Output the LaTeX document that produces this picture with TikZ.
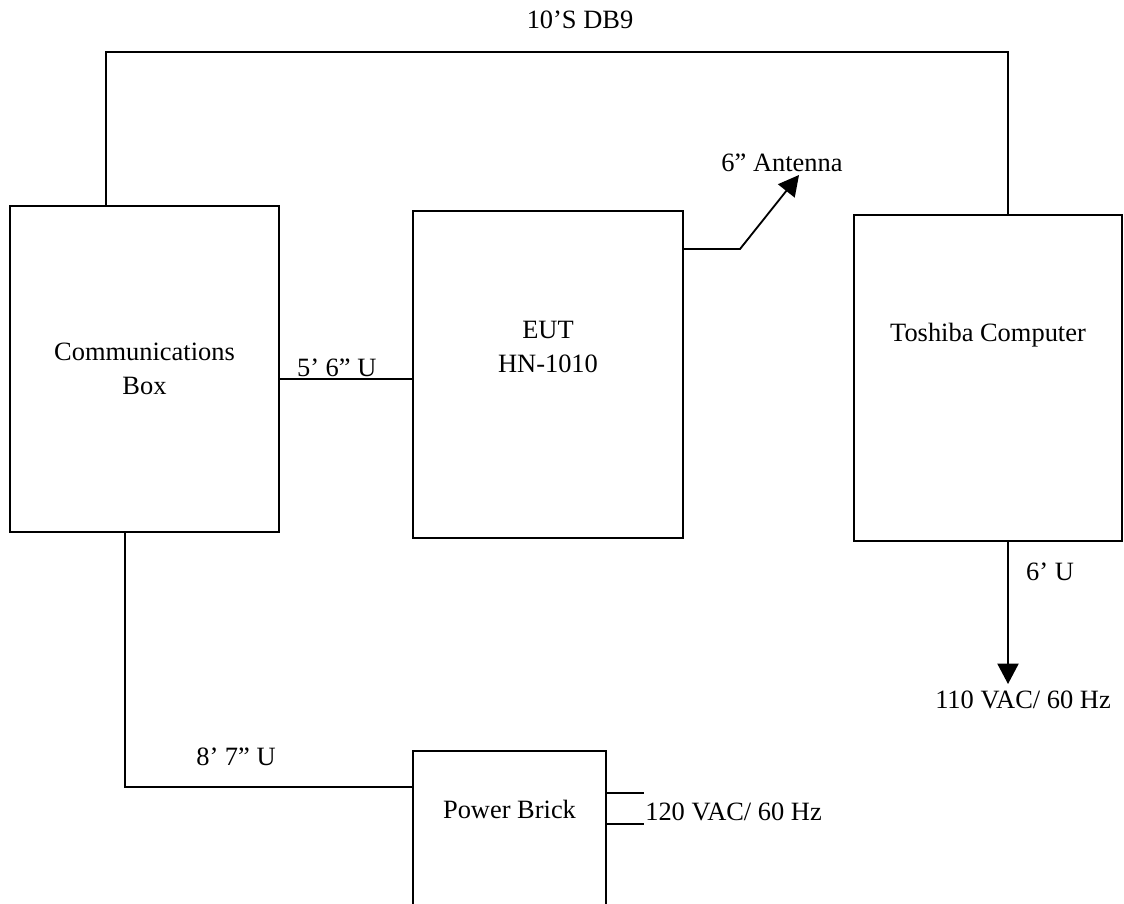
\documentclass[tikz,border=0pt]{standalone}
\usepackage{fontspec}
\setmainfont{Liberation Serif}
\usetikzlibrary{arrows.meta,positioning}
\definecolor{SetupInk}{HTML}{000000}
\newcommand{\setupfont}{\fontsize{18.8}{24}\selectfont}
\tikzset{
  setup/box/.style={
    draw=SetupInk, line width=1.3pt, fill=white,
    inner sep=0pt, font=\setupfont, align=center
  },
  setup/cable/.style={draw=SetupInk, line width=1.3pt},
  setup/arrow/.style={
    setup/cable, -{Triangle[length=14.5pt,width=15pt]}
  },
  setup/label/.style={font=\setupfont, text=SetupInk, inner sep=0pt, align=center}
}

\begin{document}
\begin{tikzpicture}[x=0.025cm,y=-0.025cm]
  \useasboundingbox (0,0) rectangle (1124,903);
  % equipment
  \node[setup/box,minimum width=6.725cm,minimum height=8.15cm] (comm) at (144.5,369)
    {Communications\\Box};
  \node[setup/box,minimum width=6.75cm,minimum height=8.175cm,
    label={[setup/label,yshift=.69cm]center:{EUT\\HN-1010}}] (eut) at (548,374.5) {};
  \node[setup/box,minimum width=6.7cm,minimum height=8.15cm,
    label={[setup/label,yshift=1.075cm]center:Toshiba Computer}] (pc) at (988,378) {};
  \node[setup/box,minimum width=4.825cm,minimum height=5.225cm,
    label={[setup/label,yshift=1.14cm]center:Power Brick}] (brick) at (509.5,855.5) {};
  % serial cable over the top
  \coordinate (busL) at (106,52);
  \coordinate (busR) at (1008,52);
  \draw[setup/cable] (comm.north -| busL) -- (busL) -- (busR) -- (pc.north -| busR);
  \node[setup/label] (db9) at (580,20) {10’S DB9};
  % comm box to EUT
  \draw[setup/cable] (comm.east |- 0,379) -- (eut.west |- 0,379)
    node[setup/label,pos=.43,above=1pt] {5’ 6” U};
  % antenna
  \coordinate (antBend) at (740,249);
  \coordinate (antTip) at (799,175);
  \draw[setup/arrow] (eut.east |- antBend) -- (antBend) -- (antTip);
  \node[setup/label] (antLabel) at (782,163) {6” Antenna};
  % computer mains
  \coordinate (pcPlug) at (1008,684);
  \draw[setup/arrow] (pc.south -| pcPlug) -- (pcPlug);
  \node[setup/label] (pcLead) at (1050,572) {6’ U};
  \node[setup/label] (pcMains) at (1023,700) {110 VAC/ 60 Hz};
  % comm box to power brick
  \coordinate (brickBend) at (125,787);
  \draw[setup/cable] (comm.south -| brickBend) -- (brickBend) -- (brick.west |- brickBend);
  \node[setup/label] (brickLead) at (236,757) {8’ 7” U};
  % brick mains
  \draw[setup/cable] (brick.east |- 0,793) -- ++(37,0);
  \draw[setup/cable] (brick.east |- 0,824) -- ++(37,0);
  \node[setup/label,anchor=west] (brickMains) at (645,812) {120 VAC/ 60 Hz};
\end{tikzpicture}
\end{document}
